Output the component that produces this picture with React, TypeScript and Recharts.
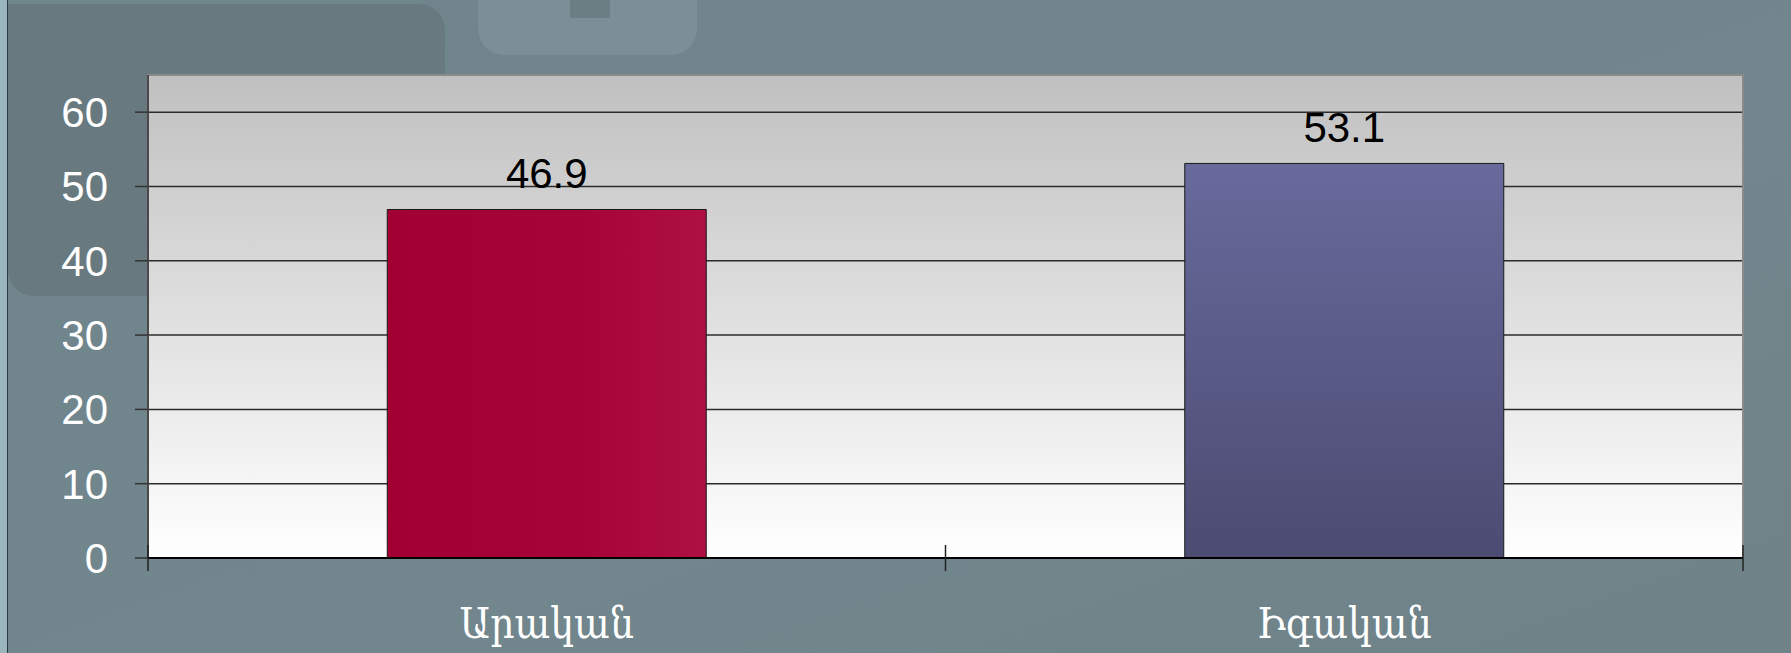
import React from "react";
import {
  BarChart,
  Bar,
  XAxis,
  YAxis,
  CartesianGrid,
  ReferenceArea,
  LabelList,
  Cell,
} from "recharts";

// chart values
const categories = ["Արական", "Իգական"];
const values = [46.9, 53.1];
const yTicks = [0, 10, 20, 30, 40, 50, 60];
const yDomain = [0, 65];

const data = categories.map((name, i) => ({ name, value: values[i] }));

const barFills = ["url(#barRed)", "url(#barBlue)"];
const numFont = "'Liberation Sans', Arial, sans-serif";
const armFont = "'DejaVu Serif Condensed', 'DejaVu Serif', serif";

const LABEL_GAP = 50;
const CROSS = 13;

// category label plus Excel-style cross tick marks at the category edges
function CategoryTick(props: any) {
  const { x, y, payload, index, visibleTicksCount } = props;
  const half = payload && payload.offset ? payload.offset : 0;
  const axisY = y - LABEL_GAP;
  const edges = [x - half];
  if (index === visibleTicksCount - 1) edges.push(x + half);
  return (
    <g>
      {half > 0 &&
        edges.map((ex, i) => (
          <line
            key={i}
            x1={ex}
            x2={ex}
            y1={axisY - CROSS}
            y2={axisY + CROSS}
            stroke="#222"
            strokeWidth={1.5}
          />
        ))}
      <text
        x={x}
        y={y}
        dy="0.71em"
        textAnchor="middle"
        fill="#ffffff"
        fontSize={42}
        fontFamily={armFont}
      >
        {payload.value}
      </text>
    </g>
  );
}

export default function App() {
  return (
    <div
      style={{
        position: "absolute",
        left: 0,
        top: 0,
        width: 1791,
        height: 653,
        overflow: "hidden",
        background: "linear-gradient(160deg, #70848b 0%, #72868d 60%, #6e8288 100%)",
      }}
    >
      {/* slide decorations behind the chart */}
      <div
        style={{
          position: "absolute",
          left: 8,
          top: 4,
          width: 437,
          height: 292,
          background: "#687a80",
          borderRadius: "0 26px 26px 26px",
        }}
      />
      <div
        style={{
          position: "absolute",
          left: 478,
          top: -30,
          width: 219,
          height: 85,
          background: "#7c8f96",
          borderRadius: 26,
        }}
      />
      <div
        style={{
          position: "absolute",
          left: 570,
          top: 0,
          width: 40,
          height: 18,
          background: "#6b7e84",
        }}
      />
      <div style={{ position: "absolute", left: 0, top: 0, width: 7, height: 653, background: "#9bb6be" }} />
      <div style={{ position: "absolute", left: 7, top: 0, width: 1, height: 653, background: "#2c3b40" }} />

      <div style={{ position: "absolute", left: 0, top: 0 }}>
        <BarChart
          width={1791}
          height={653}
          data={data}
          margin={{ top: 75, right: 48, left: 0, bottom: 35 }}
          barCategoryGap="30%"
        >
          <defs>
            <linearGradient id="plotBg" x1="0" y1="0" x2="0" y2="1">
              <stop offset="0%" stopColor="#c0c0c0" />
              <stop offset="100%" stopColor="#ffffff" />
            </linearGradient>
            <linearGradient id="barRed" x1="0" y1="0" x2="1" y2="0">
              <stop offset="0%" stopColor="#a20032" />
              <stop offset="60%" stopColor="#a50436" />
              <stop offset="100%" stopColor="#af1042" />
            </linearGradient>
            <linearGradient id="barBlue" x1="0" y1="0" x2="0" y2="1">
              <stop offset="0%" stopColor="#676a9b" />
              <stop offset="100%" stopColor="#4c4b72" />
            </linearGradient>
          </defs>
          <CartesianGrid
            vertical={false}
            stroke="#2b2b2b"
            strokeWidth={1.5}
            fill="url(#plotBg)"
            fillOpacity={1}
          />
          <ReferenceArea y1={0} y2={65} fill="none" stroke="#8a8a8a" strokeWidth={2} />
          <XAxis
            dataKey="name"
            height={60}
            interval={0}
            tickLine={false}
            tickSize={0}
            tickMargin={LABEL_GAP}
            axisLine={{ stroke: "#000", strokeWidth: 2 }}
            tick={<CategoryTick />}
          />
          <YAxis
            width={148}
            domain={yDomain}
            ticks={yTicks}
            interval={0}
            tickSize={13}
            tickMargin={27}
            axisLine={{ stroke: "#333", strokeWidth: 1.5 }}
            tickLine={{ stroke: "#333", strokeWidth: 1.5 }}
            tick={{ fill: "#ffffff", fontSize: 42, fontFamily: numFont }}
          />
          <Bar dataKey="value" stroke="#1a1a1a" strokeWidth={1} isAnimationActive={false}>
            {data.map((d, i) => (
              <Cell key={d.name} fill={barFills[i]} />
            ))}
            <LabelList
              dataKey="value"
              position="top"
              offset={21}
              fill="#000"
              fontSize={42}
              fontFamily={numFont}
            />
          </Bar>
        </BarChart>
      </div>
    </div>
  );
}
